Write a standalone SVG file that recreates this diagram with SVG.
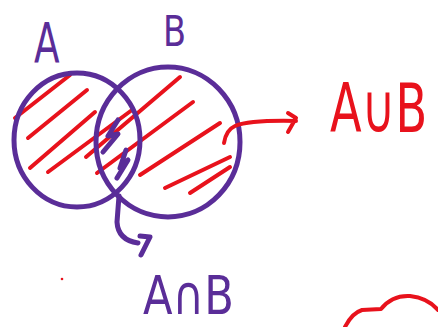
<svg xmlns="http://www.w3.org/2000/svg" width="438" height="327" viewBox="0 0 438 327">
<style>
.p{fill:none;stroke:#5a2d98;stroke-width:5;stroke-linecap:round;stroke-linejoin:round}
.r{fill:none;stroke:#e8121c;stroke-width:4;stroke-linecap:round;stroke-linejoin:round}
.tp{font-family:"DejaVu Sans",sans-serif;fill:#5a2d98}
.tr{font-family:"DejaVu Sans",sans-serif;fill:#e8121c}
</style>
<rect width="438" height="327" fill="#fff"/>
<g id="hatching">
<path class="r" d="M15 118 L70 75"/>
<path class="r" d="M28 138 L87 90"/>
<path class="r" d="M30 168 L95 112"/>
<path class="r" d="M48 172 L132 110"/>
<path class="r" d="M86 157 L180 77"/>
<path class="r" d="M97 173 L193 102"/>
<path class="r" d="M140 175 L220 123"/>
<path class="r" d="M165 188 L230 157"/>
<path class="r" d="M190 193 L230 167"/>
</g>
<g id="setA">
<ellipse class="p" cx="77" cy="140" rx="63" ry="67"/>
<text class="tp" transform="translate(34,62) scale(0.68,1)" font-size="55">A</text>
</g>
<g id="setB">
<ellipse class="p" cx="168" cy="142" rx="72" ry="75"/>
<text class="tp" transform="translate(163,46) scale(0.8,1)" font-size="42">B</text>
</g>
<g id="union">
<text class="tr" transform="translate(330,132) scale(0.68,1)" font-size="68">A∪B</text>
</g>
<g id="intersection">
<path class="p" d="M118 120 L108 136 L118 134 L103 152 M126 150 L120 168 L128 160 L117 178"/>
<text class="tp" transform="translate(143,314) scale(0.8,1)" font-size="54">A∩B</text>
</g>
<g id="connectors">
<path class="r" d="M224 143 Q226 130 235 126 Q250 120 296 121 M288 113 L296 118 L288 132"/>
<path class="p" d="M119 196 L117 222 Q118 240 138 243 M140 236 L150 237 L141 255"/>
</g>
<g id="marks">
<circle cx="62" cy="279" r="1.3" fill="#e8121c"/>
<path class="r" d="M345 327 Q352 313 362 310 L381 309 Q392 295 410 296 Q428 298 438 310"/>
</g>
</svg>
